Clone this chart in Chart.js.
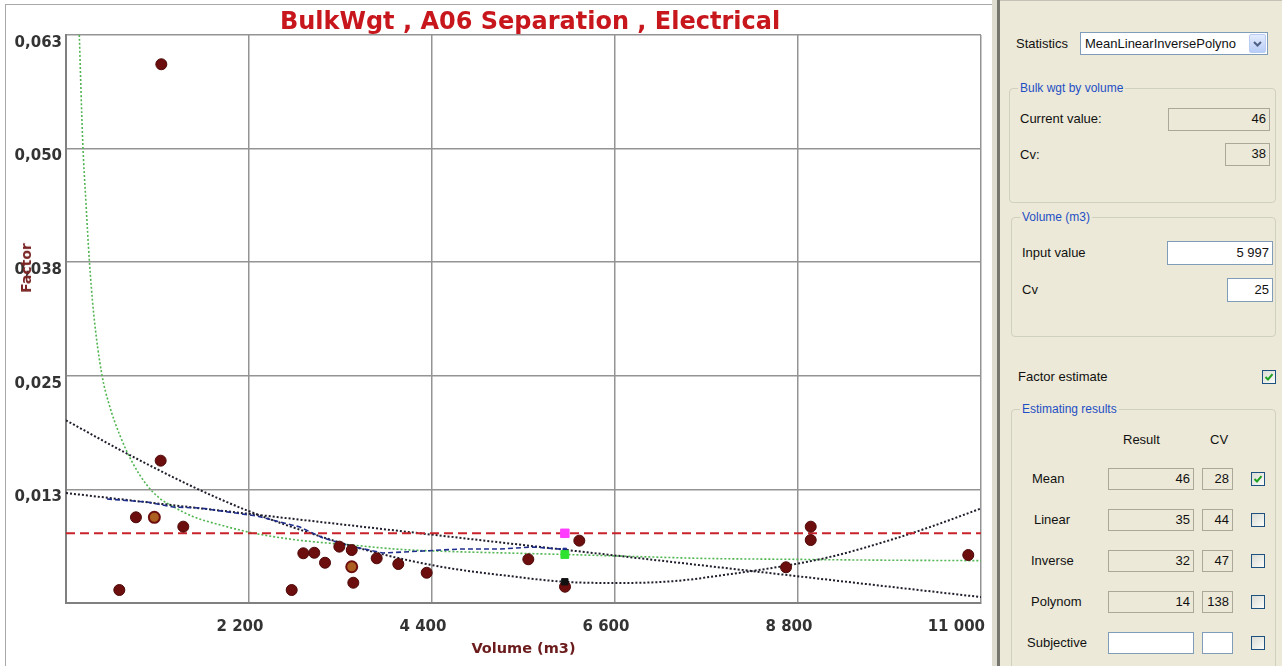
<!DOCTYPE html>
<html>
<head>
<meta charset="utf-8">
<title>BulkWgt , A06 Separation , Electrical</title>
<script src="https://cdn.jsdelivr.net/npm/chart.js@4.4.1/dist/chart.umd.min.js"></script>
<style>
  html, body { margin: 0; padding: 0; width: 1282px; height: 666px; overflow: hidden; background: #ece9d8; }
  #chartBox { position: absolute; left: 0; top: 0; width: 992px; height: 666px; background: #fff; overflow: hidden; }
  #frame { position: absolute; left: 5px; top: 4px; width: 990px; height: 700px; border-left: 1px solid #a8a8a8; border-top: 1px solid #a8a8a8; }
  #chart { position: absolute; left: 0; top: 0; }
  #chartTitle { position: absolute; left: 0; top: 6px; width: 1060px; text-align: center; font: bold 24px/30px "DejaVu Sans", Verdana, sans-serif; color: #c8161d; white-space: nowrap; }
  #factorTitle { position: absolute; left: 26px; top: 268px; transform: translate(-50%, -50%) rotate(-90deg); font: bold 14px/16px "DejaVu Sans", Verdana, sans-serif; color: #7a2424; white-space: nowrap; }
  #strip { position: absolute; left: 992px; top: 0; width: 5px; height: 666px; background: #dedbd0; border-right: 3px solid #77766e; }
  #panel { position: absolute; left: 1000px; top: 0; width: 282px; height: 666px; background: #ece9d8; border-top: 1px solid #c4c2b6; box-sizing: border-box; }
  .t { position: absolute; font: 13px/16px "Liberation Sans", Arial, sans-serif; color: #111; white-space: nowrap; }
  .g { position: absolute; border: 1px solid #d0d0bf; border-radius: 4px; box-sizing: border-box; }
  .gt { position: absolute; font: 12px/14px "Liberation Sans", Arial, sans-serif; color: #1f4fc4; background: #ece9d8; padding: 0 2px; white-space: nowrap; }
  .box { position: absolute; box-sizing: border-box; text-align: right; padding-right: 3px; font: 13px/20px "Liberation Sans", Arial, sans-serif; color: #111; }
  .ro { background: #ece9d8; border: 1px solid #aca899; }
  .in { background: #fff; border: 1px solid #7f9db9; line-height: 22px; }
  .cb { position: absolute; width: 14px; height: 14px; box-sizing: border-box; border: 1px solid #1c5180; background: linear-gradient(135deg, #dcdcd5, #fbfbf8); }
  .cb svg { position: absolute; left: 1px; top: 1px; }
  #combo { position: absolute; left: 1080px; top: 32px; width: 188px; height: 23px; box-sizing: border-box; background: #fff; border: 1px solid #7f9db9; }
  #combo .t { left: 4px; top: 3px; }
  #comboBtn { position: absolute; right: 1px; top: 1px; width: 17px; height: 19px; box-sizing: border-box; border: 1px solid #b9cdf5; border-radius: 2px; background: linear-gradient(#e3ebfd, #b8cdf6); }
  #comboBtn svg { position: absolute; left: 3px; top: 5px; }
</style>
</head>
<body>
<div id="chartBox">
  <div id="frame"></div>
  <canvas id="chart" width="1050" height="666"></canvas>
  <div id="chartTitle">BulkWgt , A06 Separation , Electrical</div>
  <div id="factorTitle">Factor</div>
</div>
<div id="strip"></div>
<div id="panel"></div>
<div id="controls"></div>

<script>
// Measured samples: volume (m3) and bulk weight factor
const volume = [1146, 641, 841, 1138, 1410, 2713, 2853, 2985, 3114, 3286, 3435, 3454, 3735, 3995, 4336, 5558, 5999, 6171, 8656, 8953, 8953, 10847];
const factor = [0.05928, 0.00143, 0.00943, 0.01566, 0.00840, 0.00143, 0.00547, 0.00553, 0.00443, 0.00620, 0.00583, 0.00223, 0.00492, 0.00429, 0.00333, 0.00481, 0.00179, 0.00686, 0.00393, 0.00840, 0.00693, 0.00528];
// Samples drawn with the lighter fill (overlapping records)
const mixedVolume = [1062, 3435];
const mixedFactor = [0.00943, 0.00399];

// Fitted curves
const linearX = [0, 11000];
const linearY = [0.0121, 0.00065];
const inverseX = [160, 200, 240, 280, 330, 430, 520, 650, 790, 970, 1130, 1290, 1530, 1850, 2250, 2810, 3410, 4015, 4500, 5300, 5997, 6900, 7700, 8800, 9700, 11000];
const inverseY = [0.0625, 0.0510, 0.0440, 0.0378, 0.0321, 0.0252, 0.0218, 0.0184, 0.0156, 0.0130, 0.0115, 0.0106, 0.0095, 0.0086, 0.0077, 0.0069, 0.0064, 0.0059, 0.0057, 0.0055, 0.00534, 0.0051, 0.0049, 0.0048, 0.00472, 0.00466];
const polyX = [0, 700, 1500, 2200, 3000, 3700, 4500, 5300, 5997, 6600, 7300, 8000, 8650, 9200, 9900, 10400, 11000];
const polyY = [0.0201, 0.0166, 0.0129, 0.0101, 0.0075, 0.0056, 0.0040, 0.0030, 0.00233, 0.0022, 0.0024, 0.0032, 0.0041, 0.0051, 0.0069, 0.0084, 0.0104];
// Running estimate up to the input volume
const trendX = [493, 974, 1286, 1611, 2296, 2813, 3090, 3414, 3811, 4292, 4737, 5218, 5614, 5997];
const trendY = [0.01144, 0.01111, 0.01056, 0.01045, 0.00957, 0.00836, 0.00715, 0.00627, 0.00550, 0.00572, 0.00594, 0.00594, 0.00616, 0.00590];

// Axis ticks
const xTickValues = [2200, 4400, 6600, 8800, 11000];
const xTickLabels = ['2 200', '4 400', '6 600', '8 800', '11 000'];
const yTickValues = [0.0125, 0.025, 0.0375, 0.05, 0.0625];
const yTickLabels = ['0,013', '0,025', '0,038', '0,050', '0,063'];

// Estimation inputs and results
const statisticsChoice = 'MeanLinearInversePolyno';
const currentValue = 46;
const currentCv = 38;
const inputVolumeText = '5 997';
const inputVolume = 5997;
const inputCv = 25;
const estimateNames = ['Mean', 'Linear', 'Inverse', 'Polynom', 'Subjective'];
const estimateResult = [46, 35, 32, 14, null];
const estimateCv = [28, 44, 47, 138, null];
const estimateChecked = [true, false, false, false, false];

// Factor at the input volume for each estimate (result = factor * volume)
const estimateFactor = estimateResult.slice(0, 4).map(r => r / inputVolume);

const pts = (xs, ys) => xs.map((x, i) => ({ x: x, y: ys[i] }));
const curve = (label, data, color, width, dash, mono) => ({
  label, data, showLine: true, borderColor: color, borderWidth: width, borderDash: dash,
  pointRadius: 0, pointHoverRadius: 0, fill: false,
  cubicInterpolationMode: mono ? 'monotone' : 'default', tension: 0
});
const marker = (label, y, color, r) => ({
  label, data: [{ x: inputVolume, y: y }], pointStyle: 'rect', pointRadius: r,
  backgroundColor: color, borderColor: color, borderWidth: 1
});

const tickFont = { family: 'DejaVu Sans', weight: 'bold', size: 15 };
// the right-most volume label is kept inside the chart frame
const lastLabelPad = '      ';

new Chart(document.getElementById('chart'), {
  type: 'scatter',
  data: {
    datasets: [
      marker('Mean at input', estimateFactor[0], '#ff3cff', 6),
      marker('Inverse at input', estimateFactor[2], '#2fe22f', 5.5),
      marker('Polynom at input', estimateFactor[3], '#111111', 4.5),
      marker('Linear at input', estimateFactor[1], '#1a2a8a', 2.5),
      { label: 'Samples', data: pts(volume, factor), pointRadius: 5.5, backgroundColor: '#6d0e0e', borderColor: '#4d0707', borderWidth: 1 },
      { label: 'Samples (overlap)', data: pts(mixedVolume, mixedFactor), pointRadius: 5.5, backgroundColor: '#ad5f1f', borderColor: '#6d0e0e', borderWidth: 2 },
      curve('Running estimate', pts(trendX, trendY), '#1f2e8c', 1.6, [5, 3], false),
      curve('Mean', [{ x: 0, y: estimateFactor[0] }, { x: 11000, y: estimateFactor[0] }], '#c8232a', 2, [9, 5], false),
      curve('Linear', pts(linearX, linearY), '#1e1e2c', 2, [2, 2], false),
      curve('Polynom', pts(polyX, polyY), '#1e1e2c', 2, [2, 2], true),
      curve('Inverse', pts(inverseX, inverseY), '#52b552', 1.6, [2, 2], true)
    ]
  },
  options: {
    responsive: false,
    animation: false,
    devicePixelRatio: 1,
    layout: { padding: { left: 5, right: 69, top: 35, bottom: 0 } },
    plugins: { legend: { display: false }, tooltip: { enabled: false }, title: { display: false } },
    scales: {
      x: {
        type: 'linear', min: 0, max: 11000,
        afterBuildTicks: s => { s.ticks = xTickValues.map(v => ({ value: v })); },
        afterFit: s => { s.height = 63; },
        ticks: {
          callback: v => {
            const i = xTickValues.indexOf(v);
            if (i < 0) return '';
            return i === xTickValues.length - 1 ? xTickLabels[i] + lastLabelPad : xTickLabels[i];
          },
          font: tickFont, color: '#333333', padding: 15, labelOffset: -9, maxRotation: 0, autoSkip: false
        },
        grid: { color: '#949494', lineWidth: 1.5, drawTicks: false },
        border: { display: true, color: '#808080', width: 2 },
        title: { display: true, text: 'Volume (m3)', color: '#6b1b1b', font: { family: 'DejaVu Sans', weight: 'bold', size: 14.5 }, padding: { top: 0, bottom: 8 } }
      },
      y: {
        type: 'linear', min: 0, max: 0.0625,
        afterBuildTicks: s => { s.ticks = yTickValues.map(v => ({ value: v })); },
        afterFit: s => { s.width = 61; },
        ticks: {
          callback: v => { const i = yTickValues.indexOf(v); return i < 0 ? '' : yTickLabels[i]; },
          font: tickFont, color: '#333333', padding: 4, labelOffset: 8, autoSkip: false
        },
        grid: { color: '#949494', lineWidth: 1.5, drawTicks: false },
        border: { display: true, color: '#808080', width: 2 }
      }
    }
  }
});

// Side panel controls
const host = document.getElementById('controls');
function add(cls, left, top, text, extra) {
  const d = document.createElement('div');
  d.className = cls;
  d.style.left = left + 'px';
  d.style.top = top + 'px';
  if (extra) Object.assign(d.style, extra);
  if (text !== undefined && text !== null) d.textContent = text;
  host.appendChild(d);
  return d;
}
const label = (x, cy, text) => add('t', x, cy - 8, text);
const group = (x, y, w, h, title) => {
  add('g', x, y, null, { width: w + 'px', height: h + 'px' });
  add('gt', x + 9, y - 7, title);
};
const box = (kind, x, y, w, h, text) => add('box ' + kind, x, y, text, { width: w + 'px', height: h + 'px' });
const tick = '<svg width="10" height="10" viewBox="0 0 10 10"><path d="M1.5 5 L4 7.5 L8.5 2.2" fill="none" stroke="#21a121" stroke-width="2"/></svg>';
const checkbox = (x, y, on) => { const c = add('cb', x, y); if (on) c.innerHTML = tick; };

label(1016, 44, 'Statistics');
const combo = add('', 1080, 32);
combo.id = 'combo';
combo.innerHTML = '<div class="t">' + statisticsChoice + '</div><div id="comboBtn"><svg width="9" height="8" viewBox="0 0 9 8"><path d="M1 2 L4.5 5.5 L8 2" fill="none" stroke="#4d6185" stroke-width="2"/></svg></div>';

group(1009, 88, 267, 115, 'Bulk wgt by volume');
label(1020, 119, 'Current value:');
box('ro', 1168, 108, 102, 23, currentValue);
label(1020, 155, 'Cv:');
box('ro', 1225, 143, 45, 23, currentCv);

group(1011, 217, 265, 120, 'Volume (m3)');
label(1022, 253, 'Input value');
box('in', 1167, 241, 106, 24, inputVolumeText);
label(1022, 290, 'Cv');
box('in', 1227, 278, 46, 24, inputCv);

label(1018, 377, 'Factor estimate');
checkbox(1262, 370, true);

group(1011, 409, 265, 290, 'Estimating results');
label(1123, 440, 'Result');
label(1210, 440, 'CV');
const rowY = [479, 520, 561, 602, 643];
const rowX = [1032, 1034, 1031, 1031, 1027];
estimateNames.forEach((name, i) => {
  const cy = rowY[i];
  label(rowX[i], cy, name);
  const kind = estimateResult[i] === null ? 'in' : 'ro';
  box(kind, 1108, cy - 11, 86, 22, estimateResult[i]);
  box(kind, 1202, cy - 11, 31, 22, estimateCv[i]);
  checkbox(1251, cy - 7, estimateChecked[i]);
});
</script>
</body>
</html>
